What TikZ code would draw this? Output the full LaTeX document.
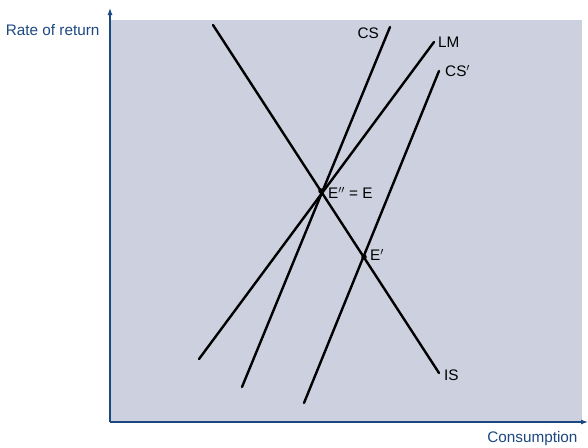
\documentclass[tikz,border=0pt]{standalone}
\usepackage{fontspec}
\setmainfont{Liberation Sans}
\usepackage{tikz}
\usepackage{xcolor}
\usetikzlibrary{arrows.meta,positioning}

\definecolor{panel}{RGB}{205,208,223}
\definecolor{axisblue}{RGB}{28,72,130}

\begin{document}
\begin{tikzpicture}[x=1pt,y=-1pt,font=\fontsize{15.3}{17}\selectfont,
    axis/.style={axisblue,line width=1.2pt,-{Latex[length=7pt,width=5pt]}},
    curve/.style={black,line width=2.4pt,line cap=round},
    lab/.style={inner sep=1pt,anchor=west},
    pt/.style={circle,fill=black,inner sep=0pt,minimum size=5.5pt}]
    \useasboundingbox (0,0) rectangle (588,447);
    \fill[panel] (110,20) rectangle (582,422);

    % axes
    \coordinate (O) at (110,422);
    \coordinate (ytop) at (110,8);
    \coordinate (xend) at (588,422);
    \draw[axis] (O) -- (ytop);
    \draw[axis] (O) -- (xend);
    \node[text=axisblue,anchor=east] (rate) at (103,30) {Rate of return};
    \node[text=axisblue,anchor=east] (cons) at (581,439) {Consumption};

    % curves
    \coordinate (IS1) at (213,25);  \coordinate (IS2) at (439,373);
    \coordinate (LM1) at (199,359); \coordinate (LM2) at (434,42);
    \coordinate (CS1) at (242,387); \coordinate (CS2) at (390,27);
    \coordinate (CSp1) at (304,403); \coordinate (CSp2) at (439,71);
    \draw[curve] (IS1) -- (IS2);
    \draw[curve] (LM1) -- (LM2);
    \draw[curve] (CS1) -- (CS2);
    \draw[curve] (CSp1) -- (CSp2);
    \node[lab] (ISl) at (443,375) {IS};
    \node[lab] (LMl) at (437,42) {LM};
    \node[lab,anchor=east] (CSl) at (380,33) {CS};
    \node[lab] (CSpl) at (444,71) {CS$'$};

    % equilibria
    \node[pt] (E) at (321,191) {};
    \node[pt] (Ep) at (364,257) {};
    \node[lab] (El) at (327,193) {E$''$ = E};
    \node[lab] (Epl) at (369,255) {E$'$};
  \end{tikzpicture}
\end{document}
